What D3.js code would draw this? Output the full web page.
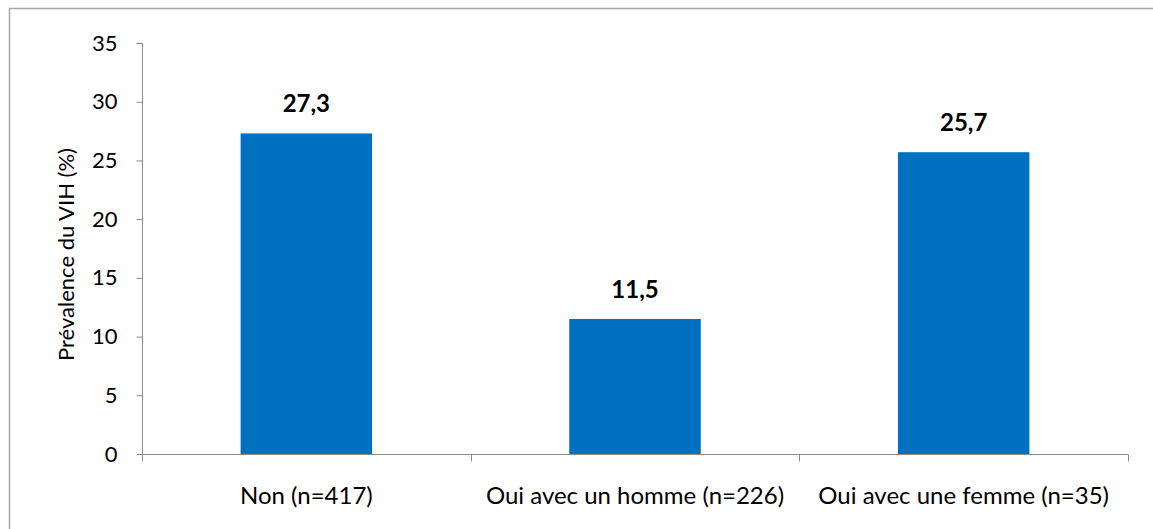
<!DOCTYPE html>
<html>
<head>
<meta charset="utf-8">
<script src="https://cdn.jsdelivr.net/npm/d3@7"></script>
<style>
body { margin: 0; background: #fff; }
svg { display: block; font-family: Lato, "Open Sans", sans-serif; }
</style>
</head>
<body>
<div id="graph"></div>
<script>
var categories = ['Non (n=417)', 'Oui avec un homme (n=226)', 'Oui avec une femme (n=35)']
var values = [27.3, 11.5, 25.7]
var valueLabels = ['27,3', '11,5', '25,7']
var yTicks = [0, 5, 10, 15, 20, 25, 30, 35]

var width = 1153
var height = 529
var marginLeft = 142
var marginRight = 25
var marginTop = 43
var marginBottom = 75

var svg = d3.select('#graph').append('svg')
	.attr('width', width)
	.attr('height', height)

// outer frame (only top and left edges are visible in the crop)
svg.append('path')
	.attr('d', 'M9.5,' + height + 'V8.5H' + width)
	.attr('fill', 'none')
	.attr('stroke', '#a6a6a6')
	.attr('stroke-width', 1.5)

var xScale = d3.scaleBand()
	.domain(categories)
	.range([marginLeft, width - marginRight])
	.paddingInner(0.6)
	.paddingOuter(0.3)

var yScale = d3.scaleLinear()
	.domain([0, 35])
	.range([height - marginBottom, marginTop])

var y0 = yScale(0)

svg.selectAll('rect.bar')
	.data(values)
	.enter().append('rect')
	.attr('class', 'bar')
	.attr('x', function(d, i) { return xScale(categories[i]) })
	.attr('y', function(d) { return yScale(d) })
	.attr('width', xScale.bandwidth())
	.attr('height', function(d) { return y0 - yScale(d) })
	.attr('fill', '#0070c0')

svg.selectAll('text.val')
	.data(values)
	.enter().append('text')
	.attr('class', 'val')
	.attr('x', function(d, i) { return xScale(categories[i]) + xScale.bandwidth() / 2 })
	.attr('y', function(d) { return yScale(d) - 21 })
	.attr('text-anchor', 'middle')
	.attr('font-size', 24)
	.attr('font-weight', 'bold')
	.attr('fill', '#000')
	.text(function(d, i) { return valueLabels[i] })

// y axis
var yAxis = d3.axisLeft(yScale)
	.tickValues(yTicks)
	.tickSize(6)
	.tickPadding(19)
	.tickFormat(d3.format('d'))

var gy = svg.append('g')
	.attr('transform', 'translate(' + (marginLeft + 0.5) + ',0)')
	.call(yAxis)
gy.select('.domain').attr('stroke', '#8c8c8c').attr('d', 'M-6,' + (marginTop + 0.5) + 'H0V' + (y0 + 0.5))
gy.selectAll('.tick line').attr('stroke', '#8c8c8c')
gy.selectAll('.tick text')
	.attr('font-size', 22)
	.attr('font-family', 'Lato, sans-serif')
	.attr('fill', '#000')

// x axis with tick marks at category boundaries
var boundary = d3.scaleLinear()
	.domain([0, categories.length])
	.range([marginLeft, width - marginRight])

var gx = svg.append('g')
	.attr('transform', 'translate(0,' + (y0 + 0.5) + ')')
gx.append('line')
	.attr('x1', marginLeft)
	.attr('x2', width - marginRight)
	.attr('stroke', '#8c8c8c')
gx.selectAll('line.tk')
	.data(d3.range(categories.length + 1))
	.enter().append('line')
	.attr('class', 'tk')
	.attr('x1', function(d) { return Math.round(boundary(d)) + 0.5 })
	.attr('x2', function(d) { return Math.round(boundary(d)) + 0.5 })
	.attr('y1', 0)
	.attr('y2', 7)
	.attr('stroke', '#8c8c8c')

var xAxis = d3.axisBottom(xScale).tickSize(0).tickPadding(33)
var gxl = svg.append('g')
	.attr('transform', 'translate(0,' + y0 + ')')
	.call(xAxis)
gxl.select('.domain').remove()
gxl.selectAll('.tick text')
	.attr('font-size', 24)
	.attr('font-family', 'Lato, sans-serif')
	.attr('fill', '#000')

svg.append('text')
	.attr('transform', 'translate(74,' + (marginTop + (y0 - marginTop) / 2 + 6) + ') rotate(-90)')
	.attr('text-anchor', 'middle')
	.attr('font-size', 22)
	.attr('fill', '#000')
	.text('Prévalence du VIH (%)')
</script>
</body>
</html>
